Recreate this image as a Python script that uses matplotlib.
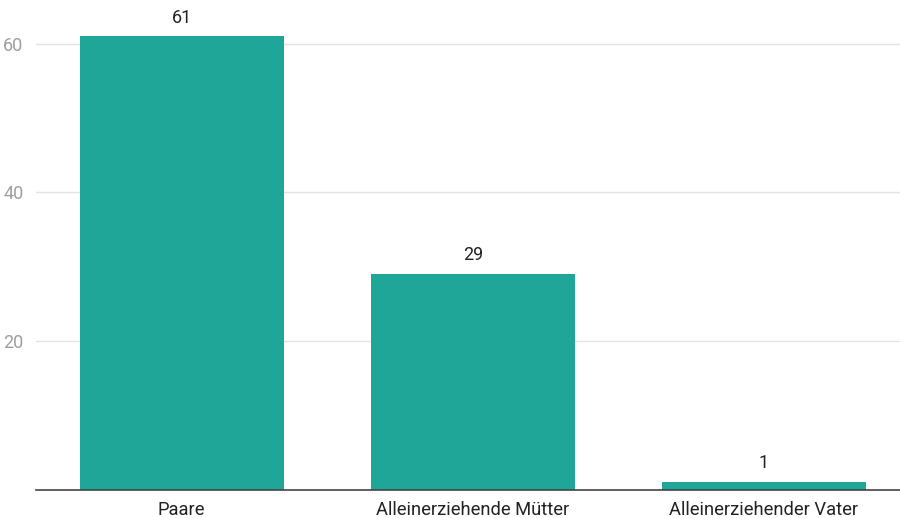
import matplotlib.pyplot as plt

categories = ["Paare", "Alleinerziehende Mütter", "Alleinerziehender Vater"]
values = [61, 29, 1]
yticks = [20, 40, 60]

plt.rcParams['font.family'] = ['Roboto', 'DejaVu Sans']

fig = plt.figure(figsize=(9, 5.18), dpi=100)
ax = fig.add_axes([36 / 900, (518 - 489.5) / 518, 1 - 36 / 900, 489.5 / 518])

x = list(range(len(categories)))
bars = ax.bar(x, values, width=0.70, color="#20a698", zorder=2)

for b, v in zip(bars, values):
	ax.text(b.get_x() + b.get_width() / 2, v + 1.3, str(v), ha="center", va="bottom",
		fontsize=13, color="#222222")

ax.set_xlim(-0.5, 2.467)
ax.set_ylim(0, 65.9)
ax.set_yticks(yticks)
ax.set_yticklabels([str(t) for t in yticks], fontsize=13, color="#9e9e9e")
ax.set_xticks(x)
ax.set_xticklabels(categories, fontsize=13.2, color="#222222")
ax.tick_params(axis="both", length=0)
ax.tick_params(axis="y", pad=9)
ax.tick_params(axis="x", pad=8)
ax.grid(axis="y", color="#e3e3e3", linewidth=1, zorder=0)

for s in ["top", "right", "left"]:
	ax.spines[s].set_visible(False)
ax.spines["bottom"].set_color("#444444")
ax.spines["bottom"].set_linewidth(1.2)
ax.spines["bottom"].set_zorder(3)

fig.savefig("out.png", dpi=100)
